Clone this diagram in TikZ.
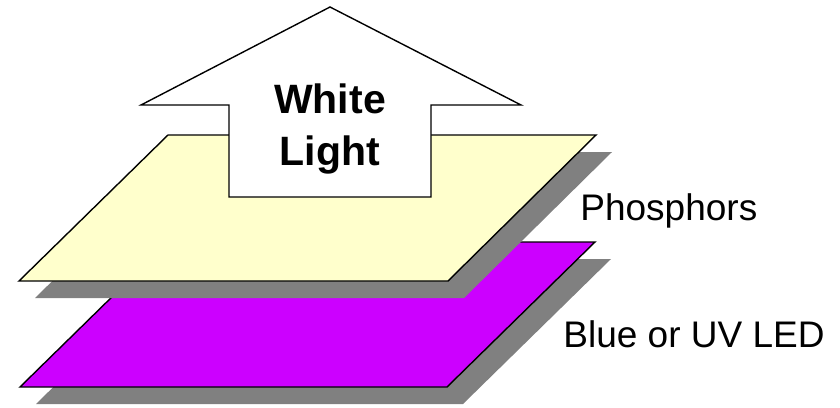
\documentclass[tikz,border=0pt]{standalone}
\usepackage{fontspec}
\setmainfont{Liberation Sans}
\usepackage{xcolor}
\usetikzlibrary{calc}

\definecolor{phosphor}{HTML}{FFFFCC}
\definecolor{ledviolet}{HTML}{CC00FF}
\definecolor{shadowgray}{HTML}{808080}

\begin{document}
\begin{tikzpicture}[
    x=0.5pt, y=-0.5pt,
    plate/.style={draw=black,line width=0.7pt,line join=miter},
    shadow/.style={fill=shadowgray,draw=none},
    lightarrow/.style={draw=black,fill=white,line width=0.7pt,line join=miter},
    layerlabel/.style={anchor=base west,inner sep=0pt,
                       font=\fontsize{18.5}{22}\selectfont},
    arrowlabel/.style={align=center,inner sep=0pt,
                       font=\fontsize{20.5}{26}\selectfont\bfseries},
  ]
  \useasboundingbox (0,0) rectangle (840,407);

  % --- corners of the top plate (phosphors) ---
  \coordinate (ptl) at (168,135);
  \coordinate (ptr) at (596,135);
  \coordinate (pbr) at (448,281);
  \coordinate (pbl) at (19,281);

  % --- corners of the bottom plate (LED) ---
  \coordinate (ltl) at (168,242);
  \coordinate (ltr) at (595,242);
  \coordinate (lbr) at (447,387);
  \coordinate (lbl) at (20,387);

  % --- LED plate with its shadow ---
  \fill[shadow] ($(ltl)+(16,17)$) -- ($(ltr)+(16,17)$) -- ($(lbr)+(16,17)$)
               -- ($(lbl)+(16,17)$) -- cycle;
  \filldraw[plate,fill=ledviolet] (ltl) -- (ltr) -- (lbr) -- (lbl) -- cycle;

  % --- phosphor plate with its shadow ---
  \fill[shadow] ($(ptl)+(16,17)$) -- ($(ptr)+(16,17)$) -- ($(pbr)+(16,17)$)
               -- ($(pbl)+(16,17)$) -- cycle;
  \filldraw[plate,fill=phosphor] (ptl) -- (ptr) -- (pbr) -- (pbl) -- cycle;

  % --- outgoing light arrow ---
  \filldraw[lightarrow] (330,7) -- (521,105) -- (431,105) -- (431,197)
                        -- (229,197) -- (229,105) -- (141,105) -- cycle;
  \node[arrowlabel] (white) at (330,128.5) {White\\Light};

  % --- layer labels ---
  \node[layerlabel] (phos) at (580,220) {Phosphors};
  \node[layerlabel] (led)  at (563,347) {Blue or UV LED};

\end{tikzpicture}
\end{document}
